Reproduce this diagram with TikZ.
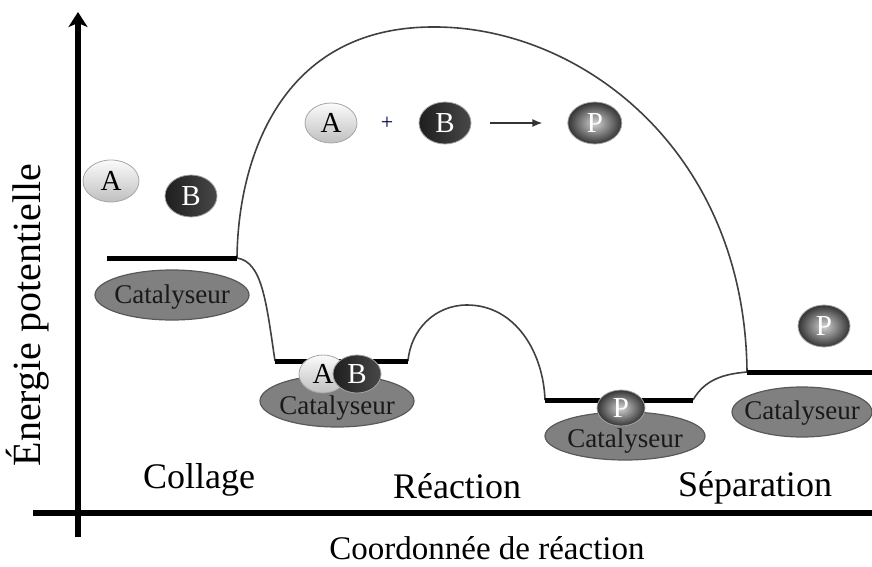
\documentclass[tikz,border=0pt]{standalone}
\usepackage{fontspec}
\setmainfont{Liberation Serif}
\usetikzlibrary{positioning,shapes.geometric,arrows.meta}

\tikzset{
  axe/.style={line width=2.6pt,black},
  niveau/.style={line width=2.5pt,black},
  profil/.style={line width=0.8pt,black!75},
  catal/.style={ellipse,draw=black!65,line width=0.6pt,fill=black!50,
    minimum width=77pt,minimum height=25pt,inner sep=0pt},
  cattxt/.style={font=\fontsize{13.5}{15}\selectfont,text=black!90},
  ball/.style={ellipse,draw=gray!70,line width=0.4pt,inner sep=0pt,
    minimum width=26pt,minimum height=21pt,font=\fontsize{14.5}{16}\selectfont},
  petite/.style={minimum width=24pt,minimum height=19pt},
  ballA/.style={ball,top color=gray!3,bottom color=gray!50,text=black},
  ballB/.style={ball,left color=black!88,right color=black!72,text=white},
  ballP/.style={ball,shading=radial,inner color=gray!35,outer color=black!80,text=white},
  etiq/.style={font=\fontsize{18}{20}\selectfont}
}

\begin{document}
\begin{tikzpicture}[x=0.5pt,y=-0.5pt]
  \useasboundingbox (0,0) rectangle (872,567);

  % axes
  \coordinate (ybas) at (78,537);
  \coordinate (yhaut) at (78,12);
  \coordinate (xgauche) at (33,513);
  \coordinate (xdroite) at (872,513);
  \draw[axe,-{Stealth[length=7.5pt,width=9.5pt,inset=2pt]}] (ybas) -- (yhaut);
  \draw[axe] (xgauche) -- (xdroite);

  % niveaux
  \coordinate (n1a) at (107,258); \coordinate (n1b) at (237,258);
  \coordinate (n2a) at (275,361); \coordinate (n2b) at (408,361);
  \coordinate (n3a) at (545,400); \coordinate (n3b) at (693,400);
  \coordinate (n4a) at (747,372); \coordinate (n4b) at (872,372);
  \coordinate (sommet) at (433,27);
  \coordinate (bosse) at (467,305);

  % profil
  \draw[profil] (n1b) .. controls (238,160) and (280,27) .. (sommet)
    .. controls (580,26) and (745,150) .. (n4a);
  \draw[profil] (n1b) .. controls (262,262) and (266,300) .. (n2a);
  \draw[profil] (n2b) to[out=85,in=180] (bosse) to[out=0,in=92] (n3a);
  \draw[profil] (n3b) to[out=60,in=185] (n4a);

  \foreach \a/\b in {n1a/n1b,n2a/n2b,n3a/n3b,n4a/n4b}
    \draw[niveau] (\a) -- (\b);

  % catalyseurs
  \node[catal] (cat1) at (172,295) {};
  \node[catal,minimum height=26pt] (cat2) at (337,401) {};
  \node[catal,minimum width=80pt,minimum height=24pt] (cat3) at (625,436) {};
  \node[catal,minimum width=70pt] (cat4) at (802,412) {};
  \node[cattxt] at (172,297) {Catalyseur};
  \node[cattxt] at (337,408) {Catalyseur};
  \node[cattxt] at (625,441) {Catalyseur};
  \node[cattxt] at (802,413) {Catalyseur};

  % molecules
  \node[ballA,minimum width=28pt] (a1) at (111,181) {A};
  \node[ballB] (b1) at (191,196) {B};
  \node[ballA,petite] (a2) at (323,374) {A};
  \node[ballB,petite] (b2) at (357,374) {B};
  \node[ballP,petite,minimum height=18pt] (p3) at (621,408) {P};
  \node[ballP] (p4) at (824,326) {P};

  % equation
  \node[ballA,minimum height=20pt] (ra) at (331,123) {A};
  \node[right=11.5pt of ra,inner sep=0pt,text=black!70!blue,
    font=\fontsize{11}{12}\selectfont] (plus) {+};
  \node[ballB,right=12.5pt of plus] (rb) {B};
  \node[ballP,minimum width=27pt,right=48pt of rb] (rp) {P};
  \draw[line width=0.8pt,black!80,-{Latex[length=5pt,width=4pt]},
    shorten <=9.5pt,shorten >=12.5pt] (rb) -- (rp);

  % textes
  \node[etiq] at (199,480) {Collage};
  \node[etiq] at (457,486) {Réaction};
  \node[etiq] at (755,488) {Séparation};
  \node[font=\fontsize{16.5}{18}\selectfont] at (487,548) {Coordonnée de réaction};
  \node[rotate=90,font=\fontsize{20}{22}\selectfont] at (28,315) {Énergie potentielle};
\end{tikzpicture}
\end{document}
